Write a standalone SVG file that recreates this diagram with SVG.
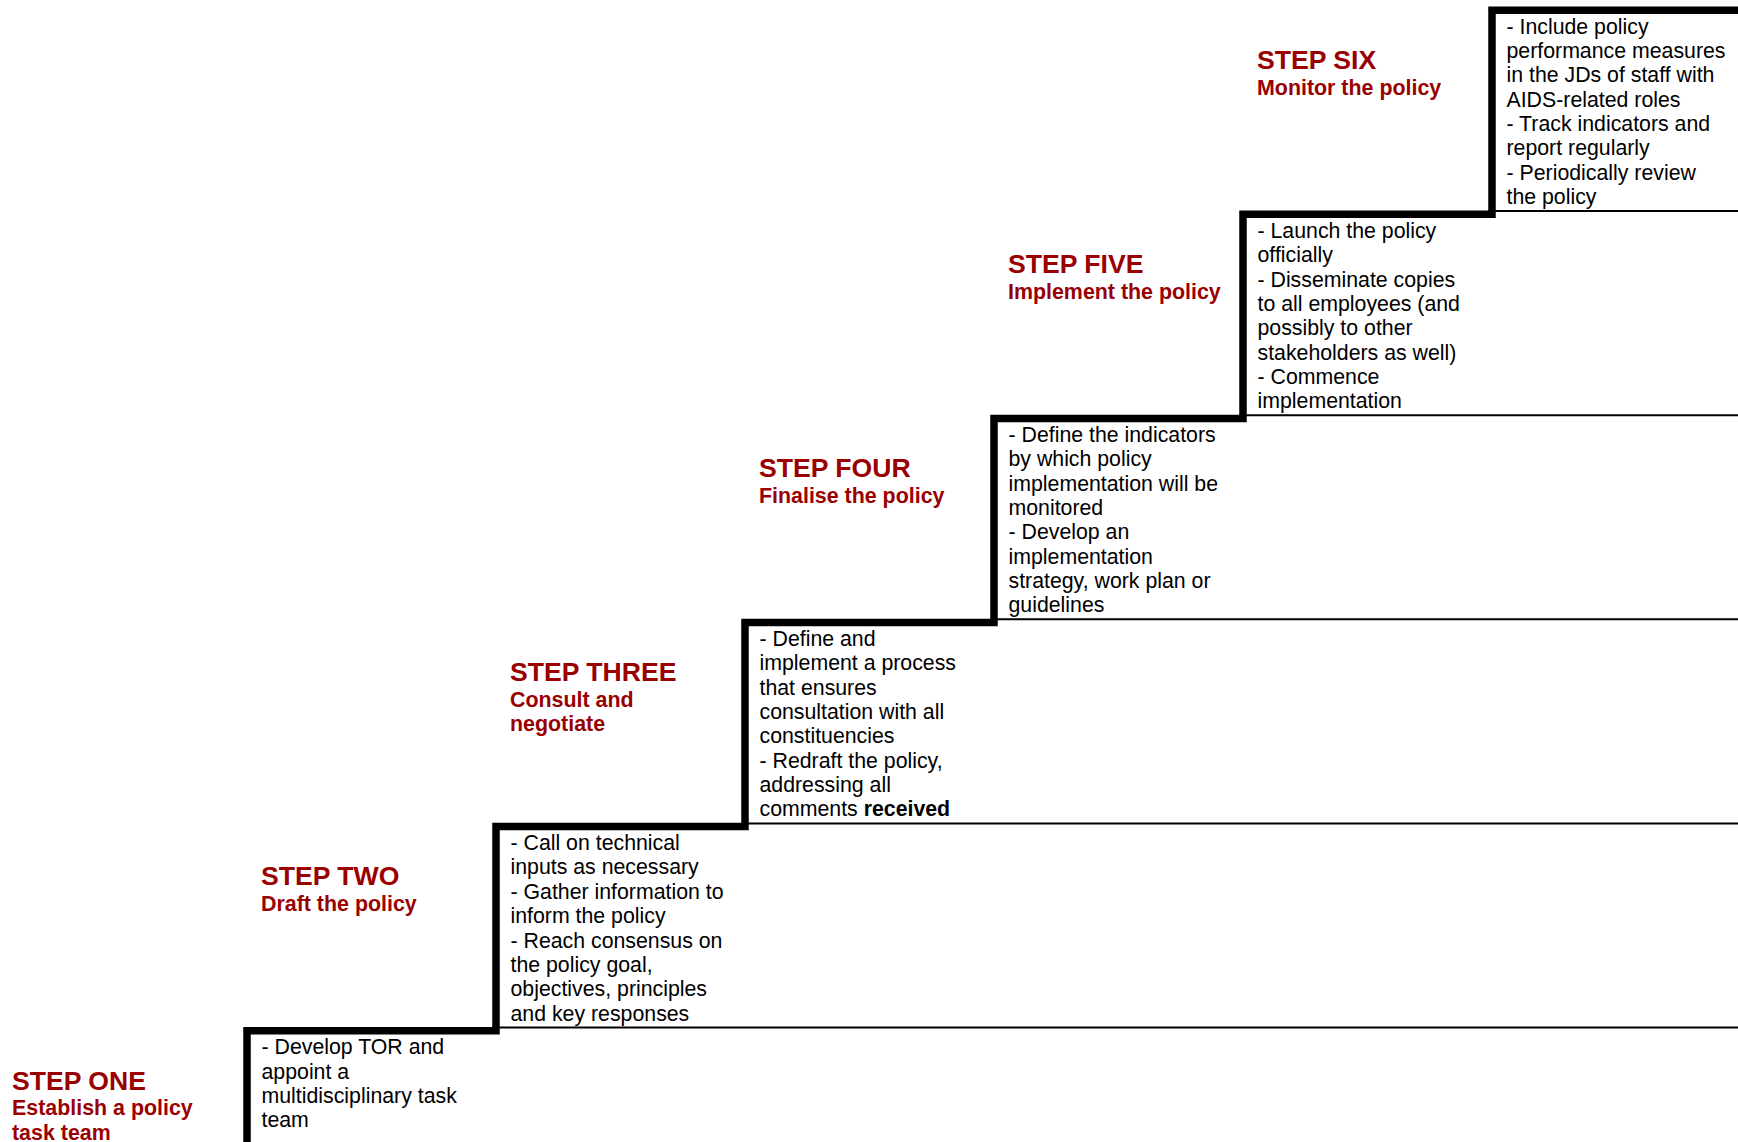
<svg xmlns="http://www.w3.org/2000/svg" width="1738" height="1142" viewBox="0 0 1738 1142">
<style>
.h{font-family:"Liberation Sans",Arial,sans-serif;font-weight:bold;font-size:26.6px;fill:#990000}
.s{font-family:"Liberation Sans",Arial,sans-serif;font-weight:bold;font-size:21.4px;fill:#990000}
.b{font-family:"Liberation Sans",Arial,sans-serif;font-size:21.3px;fill:#000}
.bb{font-weight:bold}
.thin{stroke:#000;stroke-width:2;fill:none}
.stair{stroke:#000;stroke-width:7.5;fill:none;stroke-linejoin:miter}
</style>
<rect width="1738" height="1142" fill="#fff"/>
<g id="connectors">
<line class="thin" x1="492" y1="1027.5" x2="1738" y2="1027.5"/>
<line class="thin" x1="741" y1="823.4" x2="1738" y2="823.4"/>
<line class="thin" x1="990" y1="619.3" x2="1738" y2="619.3"/>
<line class="thin" x1="1239" y1="415.2" x2="1738" y2="415.2"/>
<line class="thin" x1="1488" y1="211.1" x2="1738" y2="211.1"/>
<path class="stair" d="M247,1146 V1030.7 H496 V826.6 H745 V622.5 H994 V418.4 H1243 V214.3 H1492 V10.2 H1742"/>
</g>
<g id="step1">
<text class="h" x="12" y="1089.5">STEP ONE</text>
<text class="s" x="12" y="1115.2">Establish a policy<tspan x="12" dy="24.4">task team</tspan></text>
<text class="b" x="261.5" y="1054.2">- Develop TOR and<tspan x="261.5" dy="24.35">appoint a</tspan><tspan x="261.5" dy="24.35">multidisciplinary task</tspan><tspan x="261.5" dy="24.35">team</tspan></text>
</g>
<g id="step2">
<text class="h" x="261" y="885.4">STEP TWO</text>
<text class="s" x="261" y="911.1">Draft the policy</text>
<text class="b" x="510.5" y="850.1">- Call on technical<tspan x="510.5" dy="24.35">inputs as necessary</tspan><tspan x="510.5" dy="24.35">- Gather information to</tspan><tspan x="510.5" dy="24.35">inform the policy</tspan><tspan x="510.5" dy="24.35">- Reach consensus on</tspan><tspan x="510.5" dy="24.35">the policy goal,</tspan><tspan x="510.5" dy="24.35">objectives, principles</tspan><tspan x="510.5" dy="24.35">and key responses</tspan></text>
</g>
<g id="step3">
<text class="h" x="510" y="681.3">STEP THREE</text>
<text class="s" x="510" y="707">Consult and<tspan x="510" dy="24.4">negotiate</tspan></text>
<text class="b" x="759.5" y="646">- Define and<tspan x="759.5" dy="24.35">implement a process</tspan><tspan x="759.5" dy="24.35">that ensures</tspan><tspan x="759.5" dy="24.35">consultation with all</tspan><tspan x="759.5" dy="24.35">constituencies</tspan><tspan x="759.5" dy="24.35">- Redraft the policy,</tspan><tspan x="759.5" dy="24.35">addressing all</tspan><tspan x="759.5" dy="24.35">comments <tspan class="bb">received</tspan></tspan></text>
</g>
<g id="step4">
<text class="h" x="759" y="477.2">STEP FOUR</text>
<text class="s" x="759" y="502.9">Finalise the policy</text>
<text class="b" x="1008.5" y="441.9">- Define the indicators<tspan x="1008.5" dy="24.35">by which policy</tspan><tspan x="1008.5" dy="24.35">implementation will be</tspan><tspan x="1008.5" dy="24.35">monitored</tspan><tspan x="1008.5" dy="24.35">- Develop an</tspan><tspan x="1008.5" dy="24.35">implementation</tspan><tspan x="1008.5" dy="24.35">strategy, work plan or</tspan><tspan x="1008.5" dy="24.35">guidelines</tspan></text>
</g>
<g id="step5">
<text class="h" x="1008" y="273.1">STEP FIVE</text>
<text class="s" x="1008" y="298.8">Implement the policy</text>
<text class="b" x="1257.5" y="237.8">- Launch the policy<tspan x="1257.5" dy="24.35">officially</tspan><tspan x="1257.5" dy="24.35">- Disseminate copies</tspan><tspan x="1257.5" dy="24.35">to all employees (and</tspan><tspan x="1257.5" dy="24.35">possibly to other</tspan><tspan x="1257.5" dy="24.35">stakeholders as well)</tspan><tspan x="1257.5" dy="24.35">- Commence</tspan><tspan x="1257.5" dy="24.35">implementation</tspan></text>
</g>
<g id="step6">
<text class="h" x="1257" y="69">STEP SIX</text>
<text class="s" x="1257" y="94.7">Monitor the policy</text>
<text class="b" x="1506.5" y="33.7">- Include policy<tspan x="1506.5" dy="24.35">performance measures</tspan><tspan x="1506.5" dy="24.35">in the JDs of staff with</tspan><tspan x="1506.5" dy="24.35">AIDS-related roles</tspan><tspan x="1506.5" dy="24.35">- Track indicators and</tspan><tspan x="1506.5" dy="24.35">report regularly</tspan><tspan x="1506.5" dy="24.35">- Periodically review</tspan><tspan x="1506.5" dy="24.35">the policy</tspan></text>
</g>
</svg>
